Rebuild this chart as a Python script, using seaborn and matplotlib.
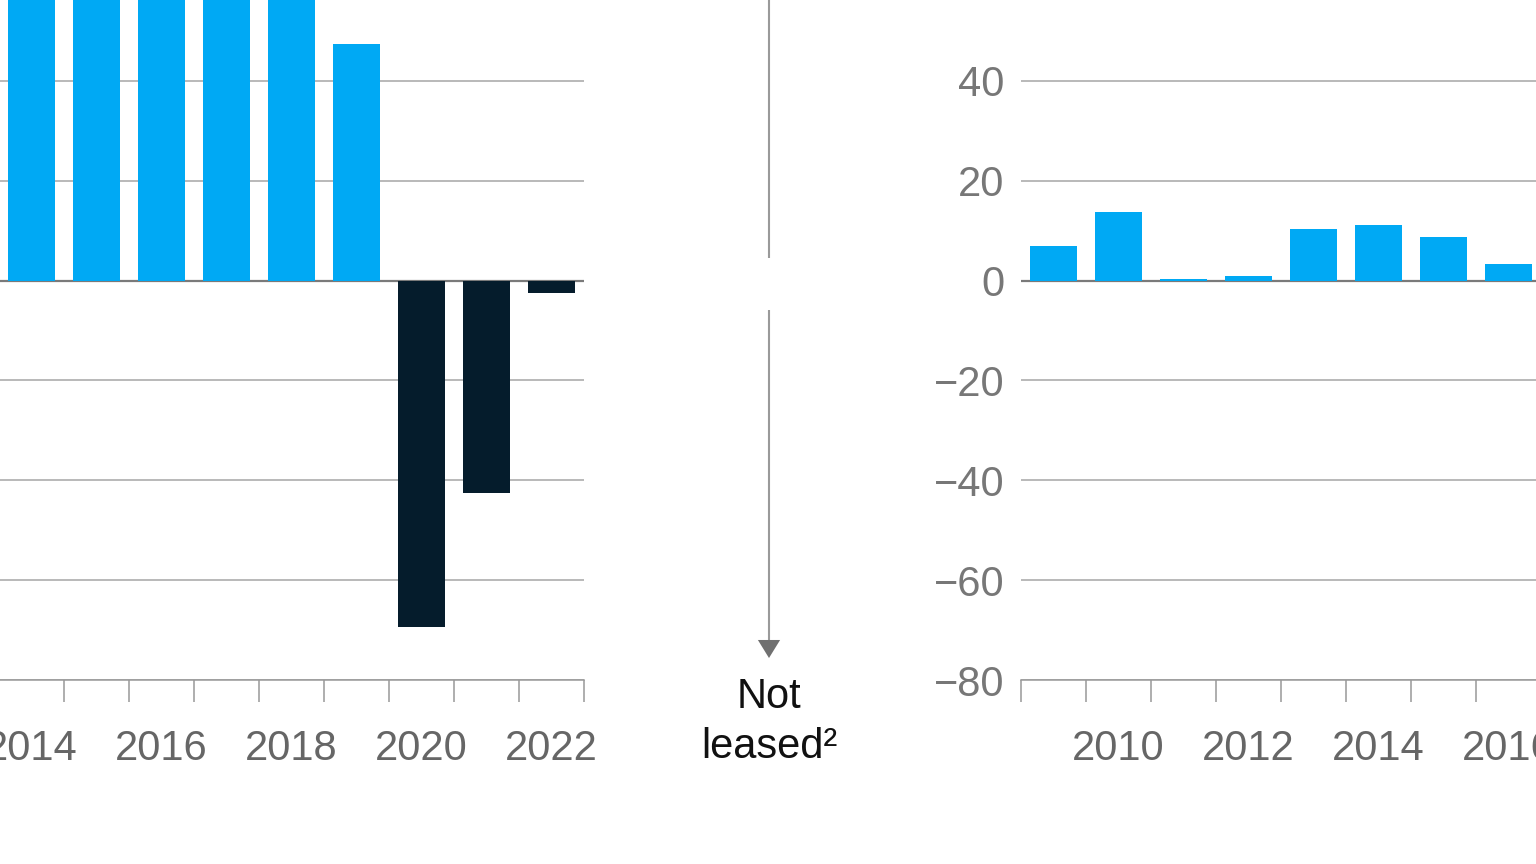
import numpy as np
import pandas as pd
import matplotlib
matplotlib.use("Agg")
import matplotlib.pyplot as plt
import seaborn as sns

# Left panel: year-over-year change (bars above the figure top are cropped in the reference)
left_years = ["2014", "2015", "2016", "2017", "2018", "2019", "2020", "2021", "2022"]
left_values = [66, 70, 68, 72, 64, 47.4, -69.4, -42.6, -2.4]
left_labels = ["2014", "2016", "2018", "2020", "2022"]

# Right panel
right_years = ["2009", "2010", "2011", "2012", "2013", "2014", "2015", "2016"]
right_values = [7.0, 13.8, 0.3, 1.0, 10.4, 11.2, 8.8, 3.4]
right_labels = ["2010", "2012", "2014", "2016"]

y_ticks = [-80, -60, -40, -20, 0, 20, 40]
arrow_text = "Not\nleased\u00b2"

BLUE = "#00A9F4"
NAVY = "#051C2C"
GRID = "#a6a6a6"
TICK_GREY = "#666666"

sns.set_theme(style="white")
plt.rcParams["font.family"] = ["Liberation Sans", "DejaVu Sans"]

W, H = 1536, 864
fig = plt.figure(figsize=(W / 100, H / 100), dpi=100)


def rect(x0, x1, y_top, y_bot):
    return [x0 / W, 1 - y_bot / H, (x1 - x0) / W, (y_bot - y_top) / H]


YLIM = (-80, 60)
TOP_PX, BOT_PX = 281 - 60 * 5, 680


def bar_panel(ax, years, values, labels, xlim):
    df = pd.DataFrame({"year": years, "value": values})
    df["sign"] = np.where(df["value"] >= 0, "pos", "neg")
    sns.barplot(data=df, x="year", y="value", hue="sign", order=years,
                palette={"pos": BLUE, "neg": NAVY}, dodge=False, width=0.72,
                saturation=1, linewidth=0, legend=False, ax=ax)
    ax.set_xlim(*xlim)
    ax.set_ylim(*YLIM)
    ax.set_xlabel("")
    ax.set_ylabel("")
    ax.set_axisbelow(True)
    ax.set_yticks(y_ticks)
    ax.yaxis.grid(True, color=GRID, linewidth=1.1)
    ax.axhline(0, color="#7a7a7a", linewidth=1.6, zorder=0.8)
    pos = [years.index(l) for l in labels]
    ax.set_xticks(pos)
    ax.set_xticklabels(labels)
    ax.set_xticks(np.arange(xlim[0], xlim[1] + 0.01, 1.0), minor=True)
    ax.tick_params(axis="x", which="major", length=0, pad=35,
                   labelsize=30, labelcolor=TICK_GREY)
    ax.tick_params(axis="x", which="minor", length=16, width=1.1,
                   color="#999999", direction="out", bottom=True)
    for s in ["top", "right", "left"]:
        ax.spines[s].set_visible(False)
    ax.spines["bottom"].set_color("#999999")
    ax.spines["bottom"].set_linewidth(1.1)


# left panel: right edge at 584 px, 65 px per category
ax_l = fig.add_axes(rect(584 - 10 * 65, 584, TOP_PX, BOT_PX))
bar_panel(ax_l, left_years, left_values, left_labels, (-1.5, 8.5))
ax_l.tick_params(axis="y", left=False, labelleft=False)

# right panel: left edge at 1021 px
ax_r = fig.add_axes(rect(1021, 1021 + 9 * 65, TOP_PX, BOT_PX))
bar_panel(ax_r, right_years, right_values, right_labels, (-0.5, 8.5))
ax_r.tick_params(axis="y", length=0, pad=12, labelsize=30, labelcolor="#777777")
ax_r.set_yticklabels([f"{v}".replace("-", "\u2212") for v in y_ticks])

# middle arrow
ax_m = fig.add_axes(rect(669, 869, TOP_PX, BOT_PX))
ax_m.set_xlim(0, 1)
ax_m.set_ylim(*YLIM)
ax_m.axis("off")
ax_m.plot([0.5, 0.5], [4.6, 60], color="#9a9a9a", lw=1.5,
          solid_capstyle="butt", clip_on=False)
ax_m.plot([0.5, 0.5], [-5.8, -72], color="#9a9a9a", lw=1.5,
          solid_capstyle="butt", clip_on=False)
ax_m.annotate("", xy=(0.5, -75.6), xytext=(0.5, -71.8),
              arrowprops=dict(arrowstyle="-|>,head_length=0.65,head_width=0.4",
                              mutation_scale=20, color="#707070", lw=0,
                              shrinkA=0, shrinkB=0))
ax_m.text(0.5, -88.4, arrow_text, ha="center", va="center", fontsize=30,
          color="#111111", linespacing=1.32, clip_on=False)

fig.savefig("out.png", dpi=100, facecolor="white")
